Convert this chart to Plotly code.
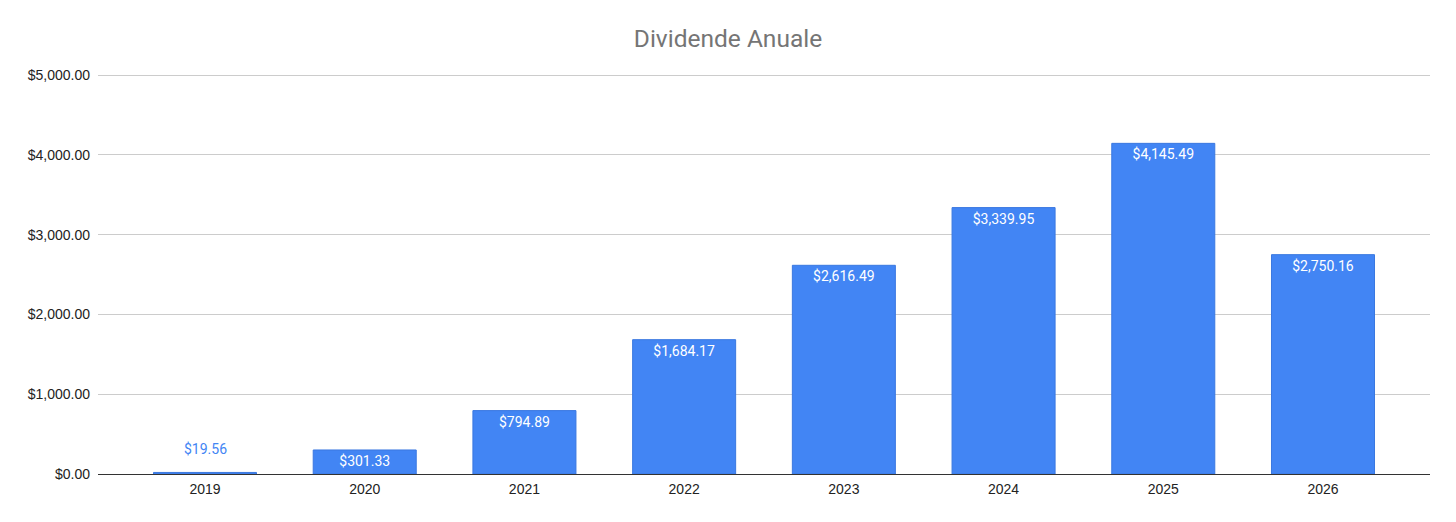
import plotly.graph_objects as go

years = ["2019", "2020", "2021", "2022", "2023", "2024", "2025", "2026"]
dividends = [19.56, 301.33, 794.89, 1684.17, 2616.49, 3339.95, 4145.49, 2750.16]
y_ticks = [0, 1000, 2000, 3000, 4000, 5000]

labels = ["${:,.2f}".format(v) for v in dividends]
small = [v < 200 for v in dividends]
inside_labels = ["" if s else t for s, t in zip(small, labels)]

fig = go.Figure(go.Bar(
    x=years, y=dividends, text=inside_labels, textposition="inside",
    insidetextanchor="end",
    insidetextfont=dict(color="white", size=14, family="Roboto"),
    marker=dict(color="#4285F4", line=dict(color="#3A78E0", width=1)),
    width=0.645, cliponaxis=False, hoverinfo="x+y",
))

for i, (v, s, t) in enumerate(zip(dividends, small, labels)):
    if s:
        fig.add_annotation(x=i, y=v, xref="x", yref="y", text=t, showarrow=False,
                           yanchor="bottom", yshift=13,
                           font=dict(color="#4285F4", size=14, family="Roboto"))

fig.update_layout(
    width=1440, height=506,
    margin=dict(l=90, r=18, t=66, b=40),
    paper_bgcolor="white", plot_bgcolor="white",
    title=dict(text="Dividende Anuale", x=0.5, xanchor="center", y=0.9407, yanchor="middle",
               font=dict(family="Roboto", size=24.5, color="#757575")),
    showlegend=False,
    xaxis=dict(type="category", range=[-0.67, 7.67],
               tickfont=dict(family="Liberation Sans, Arial", size=14, color="#222"),
               showgrid=False, ticks="", showline=False, ticklabelstandoff=5),
    yaxis=dict(range=[0, 5015], tickvals=y_ticks, tickformat="$,.2f",
               tickfont=dict(family="Liberation Sans, Arial", size=14, color="#222"),
               gridcolor="#CCCCCC", gridwidth=1, zeroline=True, zerolinecolor="#333333", zerolinewidth=1,
               ticks="", ticklen=0, showline=False, ticklabelstandoff=7),
)

fig.write_html("out.html")
